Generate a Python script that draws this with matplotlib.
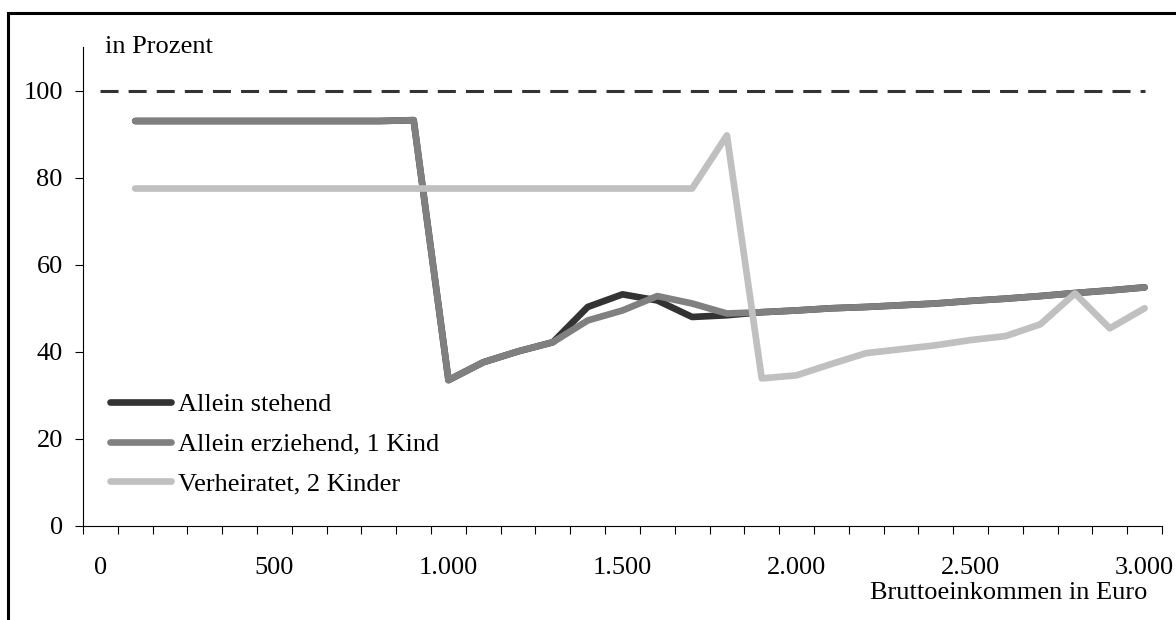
import matplotlib
matplotlib.use('Agg')
import matplotlib.pyplot as plt
from matplotlib.patches import Rectangle

plt.rcParams['font.family'] = ['Liberation Serif', 'DejaVu Serif']
plt.rcParams['font.size'] = 19

# Bruttoeinkommen in Euro (categories)
einkommen = [100, 200, 300, 400, 500, 600, 700, 800, 900, 1000,
             1100, 1200, 1300, 1400, 1500, 1600, 1700, 1800, 1900, 2000,
             2100, 2200, 2300, 2400, 2500, 2600, 2700, 2800, 2900, 3000]

allein_stehend = [93.0, 93.0, 93.0, 93.0, 93.0, 93.0, 93.0, 93.0, 93.2, 33.5,
                  37.6, 40.1, 42.2, 50.3, 53.2, 51.8, 48.0, 48.4, 49.1, 49.5,
                  50.0, 50.3, 50.7, 51.1, 51.7, 52.2, 52.8, 53.5, 54.1, 54.8]

allein_erziehend = [93.0, 93.0, 93.0, 93.0, 93.0, 93.0, 93.0, 93.0, 93.2, 33.5,
                    37.6, 40.1, 42.2, 47.2, 49.5, 52.8, 51.1, 48.8, 49.1, 49.5,
                    50.0, 50.3, 50.7, 51.1, 51.7, 52.2, 52.8, 53.5, 54.1, 54.8]

verheiratet = [77.5, 77.5, 77.5, 77.5, 77.5, 77.5, 77.5, 77.5, 77.5, 77.5,
               77.5, 77.5, 77.5, 77.5, 77.5, 77.5, 77.5, 89.7, 33.9, 34.6,
               37.2, 39.7, 40.6, 41.5, 42.7, 43.6, 46.3, 53.4, 45.4, 50.0]

ref_x = [0, 3000]
ref_y = [100, 100]

label_pos = [0, 500, 1000, 1500, 2000, 2500, 3000]
label_txt = ['0', '500', '1.000', '1.500', '2.000', '2.500', '3.000']
y_ticks = [0, 20, 40, 60, 80, 100]

fig = plt.figure(figsize=(11.76, 6.2), dpi=100)
ax = fig.add_axes([83/1176, 1-526/620, 1079/1176, 479/620])

style = dict(lw=4.8, solid_capstyle='round', solid_joinstyle='round')
ax.plot(ref_x, ref_y, color='#333333', lw=2.2, dashes=(5.9, 3.3))
ax.plot(einkommen, allein_stehend, color='#333333', label='Allein stehend', **style)
ax.plot(einkommen, allein_erziehend, color='#808080', label='Allein erziehend, 1 Kind', **style)
ax.plot(einkommen, verheiratet, color='#c0c0c0', label='Verheiratet, 2 Kinder', **style)

ax.set_xlim(-50, 3050)
ax.set_ylim(0, 110)

# tick marks at category borders, labels in category centres
ax.set_xticks([-50 + 100*k for k in range(32)])
ax.set_xticklabels([])
ax.set_xticks(label_pos, minor=True)
ax.set_xticklabels(label_txt, minor=True)
ax.tick_params(axis='x', which='major', direction='out', length=5.5, width=0.8)
ax.tick_params(axis='x', which='minor', length=0, pad=22)
ax.set_yticks(y_ticks)
ax.tick_params(axis='y', direction='out', length=5.5, width=0.8, pad=9)

for s in ['top', 'right']:
    ax.spines[s].set_visible(False)
for s in ['left', 'bottom']:
    ax.spines[s].set_linewidth(0.8)

ax.text(105/1176, 1-47/620, 'in Prozent', transform=fig.transFigure,
        ha='left', va='center')
ax.text(1147/1176, 1-593/620, 'Bruttoeinkommen in Euro', transform=fig.transFigure,
        ha='right', va='center')

ax.legend(loc='center left', bbox_to_anchor=(0.025, 0.171), frameon=False,
          borderpad=0, borderaxespad=0, handlelength=2.3, handletextpad=0.27,
          labelspacing=0.62)

# outer frame
fig.patches.append(Rectangle((8/1176, -0.1), 1.2, 1.1 - 13/620,
                             transform=fig.transFigure, fill=False,
                             edgecolor='black', lw=2.2))

fig.savefig('out.png', dpi=100)
